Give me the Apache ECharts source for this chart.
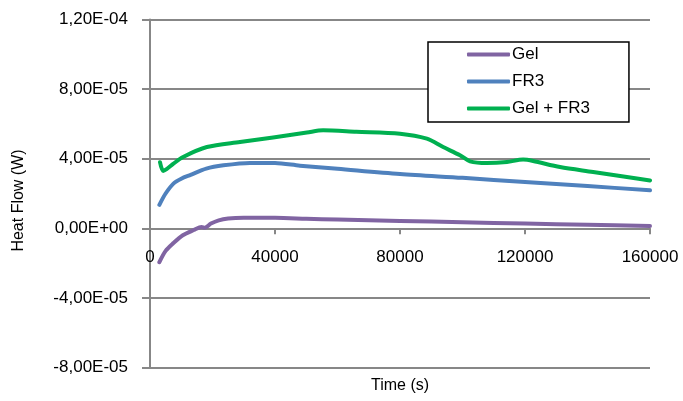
<!DOCTYPE html>
<html>
<head>
<meta charset="utf-8">
<script src="https://cdn.jsdelivr.net/npm/echarts@6/dist/echarts.min.js"></script>
<style>
html,body{margin:0;padding:0;background:#fff;}
#c{width:683px;height:401px;}
</style>
</head>
<body>
<div id="c"></div>
<script>
const seriesNames = ['Gel', 'FR3', 'Gel + FR3'];
const xTicks = [0, 40000, 80000, 120000, 160000];
const yTicks = [-8e-5, -4e-5, 0, 4e-5, 8e-5, 1.2e-4];

const gelTime = [3000, 5000, 7500, 10500, 14000, 16500, 17500, 19500, 22000, 25000, 30000, 40000, 50000, 60000, 80000, 100000, 120000, 140000, 160000];
const gelValues = [-1.95e-5, -1.3e-5, -8.5e-6, -4e-6, -1e-6, 8e-7, 3e-7, 2.7e-6, 4.6e-6, 5.6e-6, 6.0e-6, 6.0e-6, 5.5e-6, 5.0e-6, 4.2e-6, 3.5e-6, 2.7e-6, 2.0e-6, 1.3e-6];

const fr3Time = [3000, 5000, 7500, 10000, 13000, 18000, 23500, 32000, 40000, 48000, 60000, 80000, 100000, 120000, 140000, 160000];
const fr3Values = [1.35e-5, 2.0e-5, 2.57e-5, 2.85e-5, 3.07e-5, 3.43e-5, 3.62e-5, 3.76e-5, 3.75e-5, 3.6e-5, 3.42e-5, 3.12e-5, 2.9e-5, 2.66e-5, 2.43e-5, 2.18e-5];

const mixTime = [3200, 4200, 5300, 7400, 10600, 18200, 28800, 39400, 50200, 55400, 66000, 80000, 88600, 93800, 99200, 102400, 107800, 114200, 119400, 122600, 131200, 141800, 152600, 160000];
const mixValues = [3.8e-5, 3.3e-5, 3.4e-5, 3.7e-5, 4.1e-5, 4.67e-5, 4.96e-5, 5.22e-5, 5.5e-5, 5.63e-5, 5.55e-5, 5.44e-5, 5.15e-5, 4.67e-5, 4.2e-5, 3.85e-5, 3.75e-5, 3.81e-5, 3.95e-5, 3.87e-5, 3.52e-5, 3.24e-5, 2.95e-5, 2.75e-5];

const colors = ['#8064A2', '#4F81BD', '#00B050'];
const zip = (t, v) => t.map((x, i) => [x, v[i]]);
const seriesData = [zip(gelTime, gelValues), zip(fr3Time, fr3Values), zip(mixTime, mixValues)];

function fmtSci(v) {
  if (Math.abs(v) < 1e-12) return '0,00E+00';
  let s = v.toExponential(2);
  let m = s.split('e');
  let mant = m[0].replace('.', ',');
  let ex = parseInt(m[1], 10);
  let sign = ex < 0 ? '-' : '+';
  let ea = Math.abs(ex);
  return mant + 'E' + sign + (ea < 10 ? '0' + ea : '' + ea);
}

const chart = echarts.init(document.getElementById('c'), null, {renderer: 'canvas'});
const gray = '#878787';
const gridTop = 19.5, gridBottom = 33.5, H = 401;
const plotH = H - gridTop - gridBottom;
// offset of the zero line from the bottom edge of the plot (derived from axis range)
const zeroOffset = plotH * (0 - yTicks[0]) / (yTicks[yTicks.length - 1] - yTicks[0]);

chart.setOption({
  animation: false,
  backgroundColor: '#fff',
  grid: {left: 150, right: 33, top: gridTop, bottom: gridBottom, containLabel: false, outerBoundsMode: 'none'},
  legend: {
    orient: 'vertical',
    left: 428, top: 42,
    z: 10,
    data: seriesNames,
    backgroundColor: '#fff',
    borderColor: '#000',
    borderWidth: 1.5,
    borderRadius: 0,
    padding: [4, 39, 5, 39],
    itemGap: 10,
    itemWidth: 43,
    itemHeight: 4,
    icon: 'roundRect',
    textStyle: {fontFamily: 'Liberation Sans', fontSize: 17, color: '#000', padding: [0, 0, 0, -3]}
  },
  xAxis: {
    type: 'value',
    min: xTicks[0], max: xTicks[xTicks.length - 1], interval: 40000,
    offset: -zeroOffset,
    name: 'Time (s)', nameLocation: 'middle', nameGap: 149,
    nameTextStyle: {fontFamily: 'Liberation Sans', fontSize: 16, color: '#000'},
    axisLine: {onZero: false, lineStyle: {color: gray, width: 2}},
    axisTick: {show: true, inside: false, length: 6, lineStyle: {color: gray, width: 2}},
    axisLabel: {fontFamily: 'Liberation Sans', fontSize: 17, color: '#000', margin: 21, formatter: v => String(v)},
    splitLine: {show: false}
  },
  yAxis: {
    type: 'value',
    min: yTicks[0], max: yTicks[yTicks.length - 1], interval: 4e-5,
    name: 'Heat Flow (W)', nameLocation: 'middle', nameGap: 123, nameRotate: 90,
    nameTextStyle: {fontFamily: 'Liberation Sans', fontSize: 16, color: '#000', padding: [0, 14, 0, 0]},
    axisLine: {show: true, lineStyle: {color: gray, width: 2}},
    axisTick: {show: true, inside: false, length: 8, lineStyle: {color: gray, width: 2}},
    axisLabel: {fontFamily: 'Liberation Sans', fontSize: 17, color: '#000', margin: 22, formatter: fmtSci},
    splitLine: {show: true, lineStyle: {color: gray, width: 2}}
  },
  series: seriesNames.map((n, i) => ({
    name: n,
    type: 'line',
    data: seriesData[i],
    showSymbol: false,
    symbol: 'none',
    smooth: 0.3,
    lineStyle: {color: colors[i], width: 4, cap: 'round', join: 'round'},
    itemStyle: {color: colors[i]},
    z: 2
  }))
});
</script>
</body>
</html>
